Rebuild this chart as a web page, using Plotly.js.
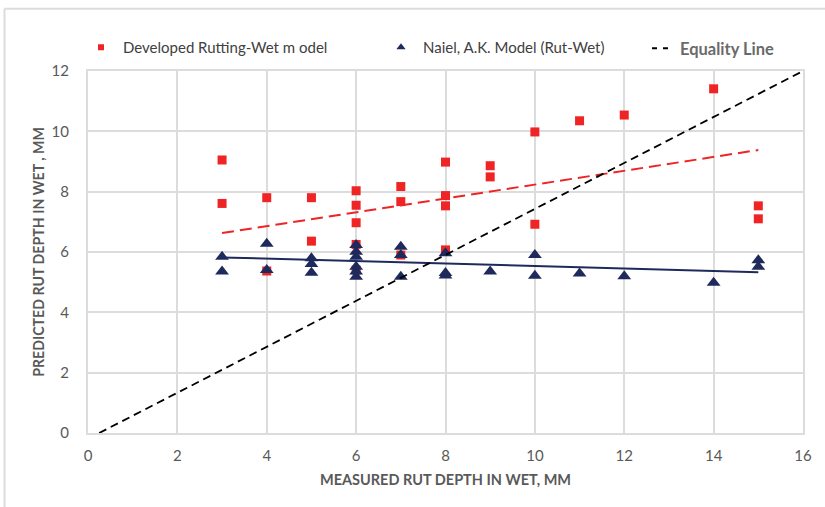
<!DOCTYPE html>
<html><head><meta charset="utf-8">
<script src="https://cdn.plot.ly/plotly-3.0.1.min.js"></script>
<style>html,body{margin:0;padding:0;background:#fff}#chart{width:825px;height:507px}</style>
</head><body><div id="chart"></div>
<script>
// Developed Rutting-Wet model (red squares)
const devX = [3,3,4,4,5,5,6,6,6,6,6,7,7,7,8,8,8,8,9,9,10,10,11,12,14,15,15];
const devY = [9.05,7.61,7.80,5.37,7.80,6.36,8.03,7.55,6.97,6.25,5.40,8.17,7.67,5.90,8.98,7.87,7.53,6.07,8.86,8.49,9.98,6.92,10.35,10.54,11.41,7.53,7.10];
// Naiel, A.K. Model (Rut-Wet) (navy triangles)
const naiX = [3,3,4,4,5,5,5,6,6,6,6,6,6,7,7,7,8,8,8,9,10,10,11,12,14,15,15];
const naiY = [5.84,5.35,6.27,5.40,5.79,5.60,5.31,6.23,6.01,5.84,5.51,5.35,5.18,6.17,5.90,5.18,5.96,5.30,5.22,5.35,5.90,5.21,5.29,5.20,4.98,5.73,5.51];
// Trend lines (end points)
const devTrendX = [3, 15];
const devTrendY = [6.63, 9.38];
const naiTrendX = [3, 15];
const naiTrendY = [5.82, 5.33];
// Equality line
const eqX = [0.25, 16];
const eqY = [0, 12];
const xTicks = [0,2,4,6,8,10,12,14,16];
const yTicks = [0,2,4,6,8,10,12];

const RED = '#ee2524', NAVY = '#1f2a5c';
const W = 825, H = 507, L = 88, R = 22, T = 71, B = 74;
const pw = W - L - R, ph = H - T - B;
const px2x = p => (p - L) / pw;
const py2y = p => (H - B - p) / ph;
const FONT = 'Lato, Liberation Sans, sans-serif';
const GRID = '#dcdcdc';

const traces = [
  {x: devX, y: devY, type: 'scatter', mode: 'markers', showlegend: false,
   marker: {symbol: 'square', size: 9, color: RED}},
  {x: naiX, y: naiY, type: 'scatter', mode: 'markers', showlegend: false,
   marker: {symbol: 'triangle-up', size: 12, color: NAVY}},
  {x: devTrendX, y: devTrendY, type: 'scatter', mode: 'lines', showlegend: false,
   line: {color: RED, width: 2, dash: '12px,6px'}},
  {x: naiTrendX, y: naiTrendY, type: 'scatter', mode: 'lines', showlegend: false,
   line: {color: NAVY, width: 2}},
  {x: eqX, y: eqY, type: 'scatter', mode: 'lines', showlegend: false,
   line: {color: '#000', width: 1.8, dash: '8px,5px'}},
  // legend entries
  {x: [null], y: [null], type: 'scatter', mode: 'markers', name: 'Developed Rutting-Wet m odel',
   legend: 'legend', marker: {symbol: 'square', size: 6, color: RED}},
  {x: [null], y: [null], type: 'scatter', mode: 'markers', name: 'Naiel, A.K. Model (Rut-Wet)',
   legend: 'legend2', marker: {symbol: 'triangle-up', size: 8, color: NAVY}},
  {x: [null], y: [null], type: 'scatter', mode: 'lines', name: 'Equality Line',
   legend: 'legend3', line: {color: '#000', width: 1.8, dash: '0px,7px,5px,6px,5px,100px'}}
];

const legFont = {family: FONT, size: 15, color: '#404040'};
function leg(xpx, font, iw) {
  return {x: px2x(xpx), y: py2y(31), xanchor: 'left', yanchor: 'top', orientation: 'h',
    bgcolor: 'rgba(0,0,0,0)', borderwidth: 0, font: font, itemwidth: iw};
}

const layout = {
  width: W, height: H,
  margin: {l: L, r: R, t: T, b: B, pad: 0},
  paper_bgcolor: '#fff', plot_bgcolor: '#fff',
  font: {family: FONT, color: '#595959', size: 15},
  showlegend: true,
  legend: leg(79, legFont, 34),
  legend2: leg(379, legFont, 34),
  legend3: leg(640, {family: FONT, size: 16.5, color: '#6a6a6a', weight: 'bold'}, 30),
  xaxis: {range: [0, 16], tickvals: xTicks, ticktext: xTicks.map(String), showgrid: true,
    gridcolor: GRID, gridwidth: 2, zeroline: false, showline: true, linecolor: GRID,
    linewidth: 2, mirror: true, ticks: '', ticklabelstandoff: 8, fixedrange: true,
    tickfont: {family: FONT, size: 15, color: '#595959'},
    title: {text: '<b>MEASURED RUT DEPTH IN WET, MM</b>', standoff: 12,
      font: {family: FONT, size: 14.5, color: '#595959'}}},
  yaxis: {range: [0, 12], tickvals: yTicks, ticktext: yTicks.map(String), showgrid: true,
    gridcolor: GRID, gridwidth: 2, zeroline: false, showline: true, linecolor: GRID,
    linewidth: 2, mirror: true, ticks: '', ticklabelstandoff: 14, fixedrange: true,
    tickfont: {family: FONT, size: 15, color: '#595959'},
    title: {text: '<b>PREDICTED RUT DEPTH IN WET , MM</b>', standoff: 4,
      font: {family: FONT, size: 14.2, color: '#595959'}}},
  shapes: [
    {type: 'line', xref: 'paper', yref: 'paper', x0: px2x(4.5), x1: px2x(825), y0: py2y(8.7), y1: py2y(8.7),
     line: {color: GRID, width: 2}},
    {type: 'line', xref: 'paper', yref: 'paper', x0: px2x(4.5), x1: px2x(4.5), y0: py2y(8.7), y1: py2y(507),
     line: {color: GRID, width: 2}}
  ]
};

Plotly.newPlot('chart', traces, layout, {displayModeBar: false, staticPlot: true});
</script></body></html>
